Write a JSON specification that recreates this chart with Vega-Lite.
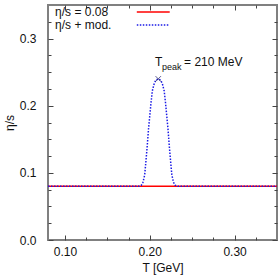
{
  "$schema": "https://vega.github.io/schema/vega-lite/v6.json",
  "width": 229,
  "height": 235,
  "autosize": {"type": "none"},
  "padding": {"left": 48, "top": 5, "right": 1, "bottom": 38},
  "background": "white",
  "config": {
    "view": {"stroke": "#808080", "strokeWidth": 2},
    "font": "Liberation Sans",
    "axis": {
      "grid": false,
      "domain": false,
      "tickColor": "#444",
      "tickWidth": 1,
      "labelFont": "Liberation Sans",
      "labelFontSize": 12,
      "labelColor": "#111",
      "titleFont": "Liberation Sans",
      "titleFontSize": 12,
      "titleFontWeight": "normal",
      "titleColor": "#111"
    }
  },
  "datasets": {
    "base": [{"T": 0.08, "eta": 0.08}, {"T": 0.35, "eta": 0.08}],
    "mod": [
      {"T": 0.08, "eta": 0.08}, {"T": 0.187, "eta": 0.08}, {"T": 0.19, "eta": 0.0815},
      {"T": 0.192, "eta": 0.086}, {"T": 0.194, "eta": 0.097}, {"T": 0.1955, "eta": 0.118},
      {"T": 0.197, "eta": 0.14}, {"T": 0.1985, "eta": 0.165}, {"T": 0.2, "eta": 0.185},
      {"T": 0.2015, "eta": 0.205}, {"T": 0.203, "eta": 0.222}, {"T": 0.205, "eta": 0.232},
      {"T": 0.207, "eta": 0.238}, {"T": 0.21, "eta": 0.24}, {"T": 0.213, "eta": 0.238},
      {"T": 0.215, "eta": 0.232}, {"T": 0.217, "eta": 0.222}, {"T": 0.2185, "eta": 0.205},
      {"T": 0.22, "eta": 0.185}, {"T": 0.2215, "eta": 0.165}, {"T": 0.223, "eta": 0.14},
      {"T": 0.2245, "eta": 0.118}, {"T": 0.226, "eta": 0.097}, {"T": 0.228, "eta": 0.086},
      {"T": 0.23, "eta": 0.0815}, {"T": 0.233, "eta": 0.08}, {"T": 0.35, "eta": 0.08}
    ]
  },
  "resolve": {"axis": {"x": "independent", "y": "independent"}},
  "layer": [
    {
      "data": {"name": "base"},
      "mark": {"type": "line", "color": "#ff0000", "strokeWidth": 1.5},
      "encoding": {
        "x": {"field": "T", "type": "quantitative",
          "scale": {"domain": [0.08, 0.35], "nice": false, "zero": false},
          "axis": {"orient": "bottom", "title": "T [GeV]",
            "values": [0.1, 0.125, 0.15, 0.175, 0.2, 0.225, 0.25, 0.275, 0.3, 0.325],
            "labelExpr": "abs(datum.value*10 - round(datum.value*10)) < 0.001 ? format(datum.value, '.2f') : ''",
            "tickSize": {"condition": {"test": "abs(datum.value*10 - round(datum.value*10)) < 0.001", "value": -5}, "value": -3},
            "labelPadding": 11, "titlePadding": 5}},
        "y": {"field": "eta", "type": "quantitative",
          "scale": {"domain": [0, 0.35], "nice": false},
          "axis": {"orient": "left", "title": "η/s",
            "values": [0, 0.025, 0.05, 0.075, 0.1, 0.125, 0.15, 0.175, 0.2, 0.225, 0.25, 0.275, 0.3, 0.325],
            "labelExpr": "abs(datum.value*10 - round(datum.value*10)) < 0.001 ? format(datum.value, '.1f') : ''",
            "tickSize": {"condition": {"test": "abs(datum.value*10 - round(datum.value*10)) < 0.001", "value": -5}, "value": -3},
            "labelPadding": 17, "titlePadding": 3}}
      }
    },
    {
      "data": {"name": "mod"},
      "mark": {"type": "line", "color": "#1a1ae6", "strokeWidth": 1.5, "strokeDash": [1.5, 1.5]},
      "encoding": {
        "x": {"field": "T", "type": "quantitative",
          "axis": {"orient": "top", "title": null, "labels": false,
            "values": [0.1, 0.125, 0.15, 0.175, 0.2, 0.225, 0.25, 0.275, 0.3, 0.325],
            "tickSize": {"condition": {"test": "abs(datum.value*10 - round(datum.value*10)) < 0.001", "value": -5}, "value": -3}}},
        "y": {"field": "eta", "type": "quantitative",
          "axis": {"orient": "right", "title": null, "labels": false,
            "values": [0, 0.025, 0.05, 0.075, 0.1, 0.125, 0.15, 0.175, 0.2, 0.225, 0.25, 0.275, 0.3, 0.325],
            "tickSize": {"condition": {"test": "abs(datum.value*10 - round(datum.value*10)) < 0.001", "value": -5}, "value": -3}}}
      }
    },
    {
      "data": {"values": [{"T": 0.1847, "eta": 0.3396}, {"T": 0.2235, "eta": 0.3396}]},
      "mark": {"type": "line", "color": "#ff0000", "strokeWidth": 1.5},
      "encoding": {
        "x": {"field": "T", "type": "quantitative", "axis": null},
        "y": {"field": "eta", "type": "quantitative", "axis": null}
      }
    },
    {
      "data": {"values": [{"T": 0.1847, "eta": 0.3202}, {"T": 0.2235, "eta": 0.3202}]},
      "mark": {"type": "line", "color": "#1a1ae6", "strokeWidth": 1.5, "strokeDash": [1.5, 1.5]},
      "encoding": {
        "x": {"field": "T", "type": "quantitative", "axis": null},
        "y": {"field": "eta", "type": "quantitative", "axis": null}
      }
    },
    {
      "data": {"values": [
        {"T": 0.0883, "eta": 0.3396, "label": "η/s = 0.08", "size": 12},
        {"T": 0.0883, "eta": 0.3202, "label": "η/s + mod.", "size": 12},
        {"T": 0.2062, "eta": 0.265, "label": "T", "size": 12},
        {"T": 0.2144, "eta": 0.2576, "label": "peak", "size": 9},
        {"T": 0.2404, "eta": 0.265, "label": "= 210 MeV", "size": 12}
      ]},
      "mark": {"type": "text", "align": "left", "baseline": "middle", "color": "#111", "font": "Liberation Sans"},
      "encoding": {
        "x": {"field": "T", "type": "quantitative", "axis": null},
        "y": {"field": "eta", "type": "quantitative", "axis": null},
        "text": {"field": "label"},
        "size": {"field": "size", "type": "quantitative", "scale": null}
      }
    },
    {
      "data": {"values": [{"T": 0.21, "eta": 0.24}]},
      "mark": {"type": "point", "shape": "M-1,-1L1,1M-1,1L1,-1", "size": 30, "filled": false, "stroke": "#1a1a60", "strokeWidth": 1},
      "encoding": {
        "x": {"field": "T", "type": "quantitative", "axis": null},
        "y": {"field": "eta", "type": "quantitative", "axis": null}
      }
    }
  ]
}
